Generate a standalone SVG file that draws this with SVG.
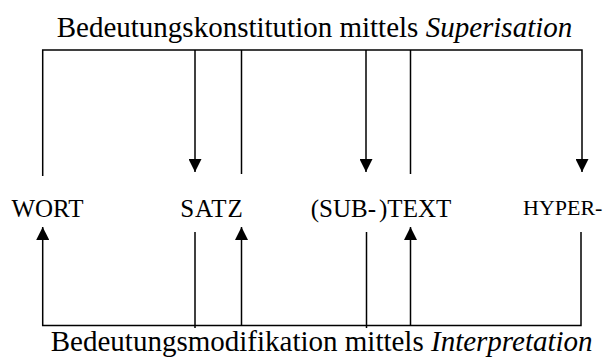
<svg xmlns="http://www.w3.org/2000/svg" width="606" height="358" viewBox="0 0 606 358">
<style>
.t{font-family:"Liberation Serif","Times New Roman",serif;fill:#000}
.lbl{font-size:25px}
.cap{font-size:29px}
.conn{fill:none;stroke:#000;stroke-width:1.5}
</style>
<defs>
<marker id="ah" markerUnits="userSpaceOnUse" markerWidth="13" markerHeight="13" viewBox="0 0 13 13" refX="13" refY="6.5" orient="auto">
<path d="M0,0 L13,6.5 L0,13 Z" fill="#000"/>
</marker>
</defs>
<rect width="606" height="358" fill="#fff"/>
<text class="t cap" x="314.5" y="37" text-anchor="middle">Bedeutungskonstitution mittels <tspan font-style="italic">Superisation</tspan></text>
<text class="t cap" x="321.7" y="351" text-anchor="middle">Bedeutungsmodifikation mittels <tspan font-style="italic">Interpretation</tspan></text>
<g id="wort"><text class="t lbl" x="47.5" y="217" text-anchor="middle">WORT</text></g>
<g id="satz"><text class="t lbl" x="212" y="217" text-anchor="middle" letter-spacing="1">SATZ</text></g>
<g id="text"><text class="t lbl" x="381" y="217" text-anchor="middle">(SUB-<tspan dx="3">)TEXT</tspan></text></g>
<g id="hyper"><text class="t" x="523" y="215" font-size="22">HYPER-</text></g>
<g id="connectors">
<path class="conn" d="M42.7,176 V50 H582 V172" marker-end="url(#ah)"/>
<path class="conn" d="M195,50 V172" marker-end="url(#ah)"/>
<path class="conn" d="M241.5,50 V174"/>
<path class="conn" d="M366,50 V172" marker-end="url(#ah)"/>
<path class="conn" d="M410.5,50 V174"/>
<path class="conn" d="M581,232 V325.5 H42.7 V227" marker-end="url(#ah)"/>
<path class="conn" d="M195,232 V328"/>
<path class="conn" d="M241.5,325.5 V227" marker-end="url(#ah)"/>
<path class="conn" d="M366.5,232 V328"/>
<path class="conn" d="M410.5,325.5 V227" marker-end="url(#ah)"/>
</g>
</svg>
